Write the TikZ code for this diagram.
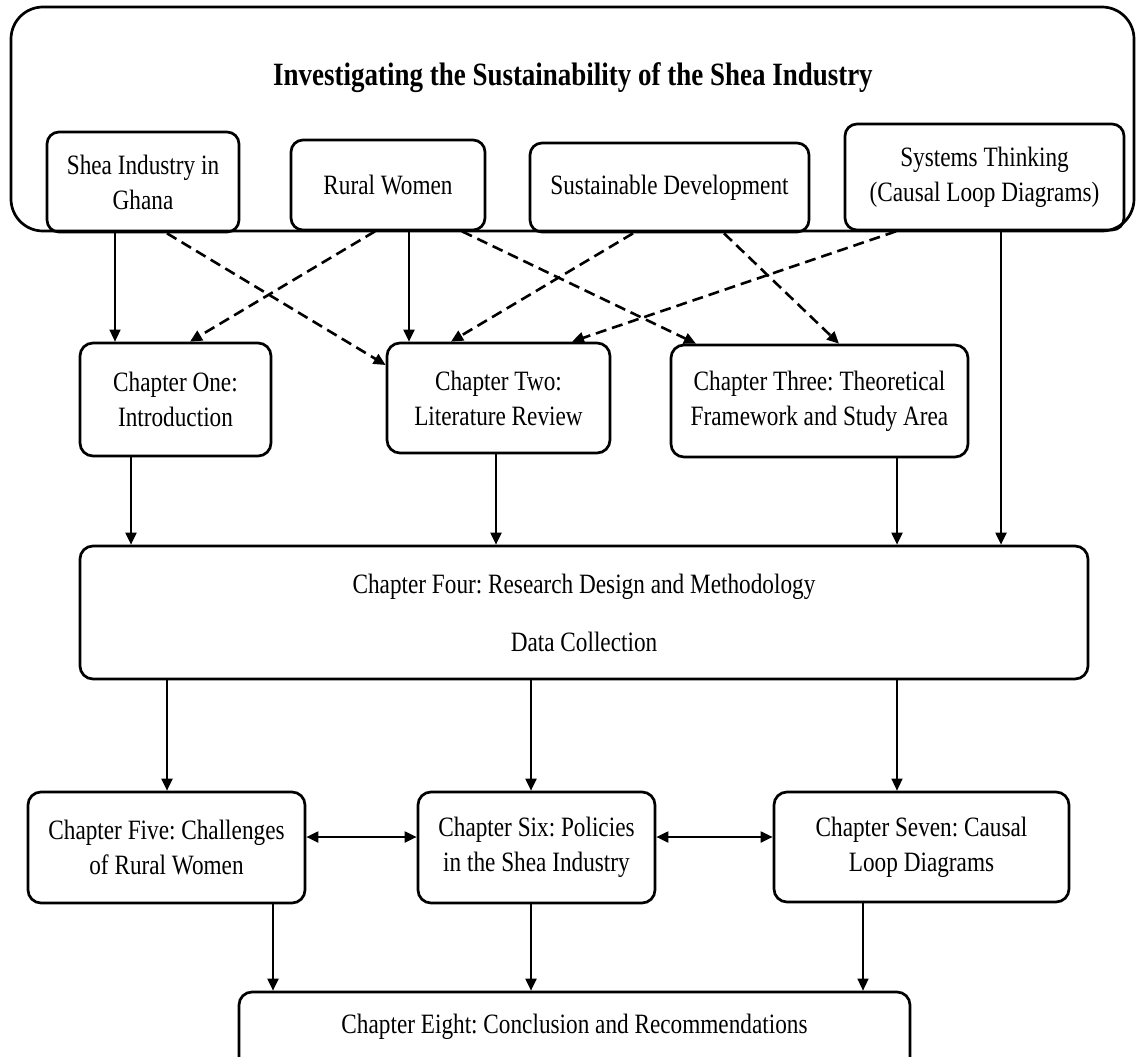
\documentclass[tikz,border=0pt]{standalone}
\usepackage{fontspec}
\setmainfont{Liberation Serif}[FakeStretch=0.83]
\usetikzlibrary{arrows.meta}
\frenchspacing

\begin{document}
\begin{tikzpicture}[x=1pt,y=-1pt,
  box/.style={draw, line width=2.7pt, rounded corners=13pt, align=center,
    inner sep=0pt, font=\fontsize{28}{35}\selectfont},
  link/.style={line width=2pt, -{Triangle[length=12pt,width=11pt]}},
  thinlink/.style={link, line width=1.4pt},
  dlink/.style={link, line width=2.6pt, dash pattern=on 11pt off 6pt},
  both/.style={line width=2pt,
    {Triangle[length=12pt,width=11pt]}-{Triangle[length=12pt,width=11pt]}},
]
\useasboundingbox (0,0) rectangle (1136,1057);
\clip (0,0) rectangle (1136,1057);

% study frame with its title and the four themes
\node[draw, line width=2.7pt, rounded corners=32pt, minimum width=1123pt,
  minimum height=224pt, inner sep=0pt] (frame) at (572.5,119) {};
\node[font=\fontsize{32.5}{38}\selectfont\bfseries] (title) at (573,78)
  {Investigating the Sustainability of the Shea Industry};

\node[box, rounded corners=12pt, minimum width=192pt, minimum height=100pt]
  (shea) at (143,182) {Shea Industry in\\Ghana};
\node[box, rounded corners=12pt, minimum width=194pt, minimum height=90pt]
  (rural) at (388,185) {Rural Women};
\node[box, rounded corners=12pt, minimum width=279pt, minimum height=89pt]
  (sust) at (669.5,187.5) {Sustainable Development};
\node[box, rounded corners=12pt, minimum width=279pt, minimum height=106pt]
  (sys) at (984.5,177) {Systems Thinking\\(Causal Loop Diagrams)};

% chapters
\node[box, minimum width=191pt, minimum height=113pt] (ch1) at (175.5,399.5)
  {Chapter One:\\Introduction};
\node[box, minimum width=223pt, minimum height=110pt] (ch2) at (498.5,398)
  {Chapter Two:\\Literature Review};
\node[box, minimum width=297pt, minimum height=112pt] (ch3) at (819.5,401)
  {Chapter Three: Theoretical\\Framework and Study Area};
\node[box, minimum width=1008pt, minimum height=133pt] (ch4) at (584,612.5)
  {Chapter Four: Research Design and Methodology\\[23pt]Data Collection};
\node[box, minimum width=277pt, minimum height=111pt] (ch5) at (166.5,847.5)
  {Chapter Five: Challenges\\of Rural Women};
\node[box, minimum width=237pt, minimum height=111pt] (ch6) at (536.5,847.5)
  {Chapter Six: Policies\\in the Shea Industry};
\node[box, minimum width=295pt, minimum height=110pt] (ch7) at (921.5,847)
  {Chapter Seven: Causal\\Loop Diagrams};
\node[box, minimum width=671pt, minimum height=78pt] (ch8) at (574.5,1031)
  {\raisebox{14pt}{Chapter Eight: Conclusion and Recommendations}};

% themes feeding the first chapters
\draw[thinlink] (shea.south -| 115,0) -- (ch1.north -| 115,0);
\draw[link] (rural.south -| 409,0) -- (ch2.north -| 409,0);
\draw[link] (sys.south -| 1001,0) -- (ch4.north -| 1001,0);
\draw[dlink] (shea.south -| 167,0) -- (ch2.west |- 0,365);
\draw[dlink] (rural.south -| 375,0) -- (ch1.north -| 190,0);
\draw[dlink] (rural.south -| 462,0) -- (ch3.north -| 696,0);
\draw[dlink] (sust.south -| 633,0) -- (ch2.north -| 451,0);
\draw[dlink] (sust.south -| 724,0) -- (ch3.north -| 839,0);
\draw[dlink] (sys.south -| 896,0) -- (ch2.north -| 572,0);

% chapter flow
\draw[link] (ch1.south -| 131,0) -- (ch4.north -| 131,0);
\draw[link] (ch2.south -| 496,0) -- (ch4.north -| 496,0);
\draw[link] (ch3.south -| 897,0) -- (ch4.north -| 897,0);
\draw[link] (ch4.south -| 167,0) -- (ch5.north -| 167,0);
\draw[link] (ch4.south -| 531,0) -- (ch6.north -| 531,0);
\draw[thinlink] (ch4.south -| 897,0) -- (ch7.north -| 897,0);
\draw[both] (ch5.east |- 0,837) -- (ch6.west |- 0,837);
\draw[both] (ch6.east |- 0,837) -- (ch7.west |- 0,837);
\draw[link] (ch5.south -| 273,0) -- (ch8.north -| 273,0);
\draw[link] (ch6.south -| 531,0) -- (ch8.north -| 531,0);
\draw[thinlink] (ch7.south -| 863,0) -- (ch8.north -| 863,0);
\end{tikzpicture}
\end{document}
